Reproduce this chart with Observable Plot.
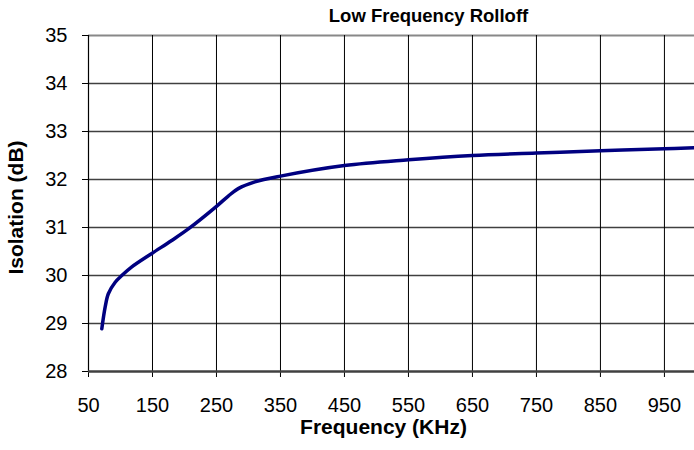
<!DOCTYPE html>
<html>
<head>
<meta charset="utf-8">
<script src="https://cdn.jsdelivr.net/npm/d3@7"></script>
<script src="https://cdn.jsdelivr.net/npm/@observablehq/plot@0.6"></script>
<style>
  html, body { margin: 0; padding: 0; background: white; }
  #chart { width: 694px; height: 450px; }
</style>
</head>
<body>
<div id="chart"></div>
<script>
// Data
const frequency = [70.8, 76, 81, 91.7, 102, 117.7, 149, 180, 206, 250, 268, 284, 310, 350, 450, 550, 650, 750, 850, 950, 997];
const isolation = [28.89, 29.34, 29.62, 29.86, 30.0, 30.18, 30.46, 30.73, 30.97, 31.44, 31.65, 31.81, 31.95, 32.07, 32.29, 32.41, 32.5, 32.55, 32.6, 32.64, 32.66];
const xTicks = [50, 150, 250, 350, 450, 550, 650, 750, 850, 950];
const yTicks = [28, 29, 30, 31, 32, 33, 34, 35];
const titleText = "Low Frequency Rolloff";
const xLabel = "Frequency (KHz)";
const yLabel = "Isolation (dB)";

const data = frequency.map((f, i) => ({f, v: isolation[i]}));
const innerY = yTicks.filter(t => t > 28 && t < 35);

const chart = Plot.plot({
  width: 694,
  height: 450,
  marginLeft: 88,
  marginRight: 0,
  marginTop: 35,
  marginBottom: 79,
  style: {fontFamily: "'Liberation Sans', Arial, sans-serif", fontSize: "20px", background: "white", color: "black"},
  x: {domain: [50, 997], ticks: xTicks},
  y: {domain: [28, 35], ticks: yTicks},
  marks: [
    Plot.ruleY(innerY, {stroke: "#404040", strokeWidth: 1.5}),
    Plot.ruleY([35], {stroke: "#888888", strokeWidth: 2}),
    Plot.ruleX(xTicks.filter(t => t > 50), {stroke: "#000000", strokeWidth: 1}),
    Plot.ruleX([50], {stroke: "#000000", strokeWidth: 1.2}),
    Plot.axisX({ticks: xTicks, tickFormat: "d", tickSize: 6, tickPadding: 20, label: null, fontSize: 20, stroke: "#000"}),
    Plot.axisY({ticks: yTicks, tickFormat: "d", tickSize: 6, tickPadding: 15, label: null, fontSize: 20, stroke: "#000"}),
    Plot.ruleY([28], {stroke: "#404040", strokeWidth: 2.5}),
    Plot.line(data, {x: "f", y: "v", curve: "catmull-rom", stroke: "#000080", strokeWidth: 3.5}),
    Plot.text([titleText], {frameAnchor: "top", lineAnchor: "top", dx: 37, dy: -27, fontWeight: "bold", fontSize: 18.5, fill: "#000"}),
    Plot.text([xLabel], {frameAnchor: "bottom", lineAnchor: "top", dx: -8, dy: 48, fontWeight: "bold", fontSize: 21, fill: "#000"}),
    Plot.text([yLabel], {frameAnchor: "left", textAnchor: "middle", lineAnchor: "middle", dx: -72, dy: 4, rotate: -90, fontWeight: "bold", fontSize: 21, fill: "#000"})
  ]
});
document.getElementById("chart").appendChild(chart);
</script>
</body>
</html>
